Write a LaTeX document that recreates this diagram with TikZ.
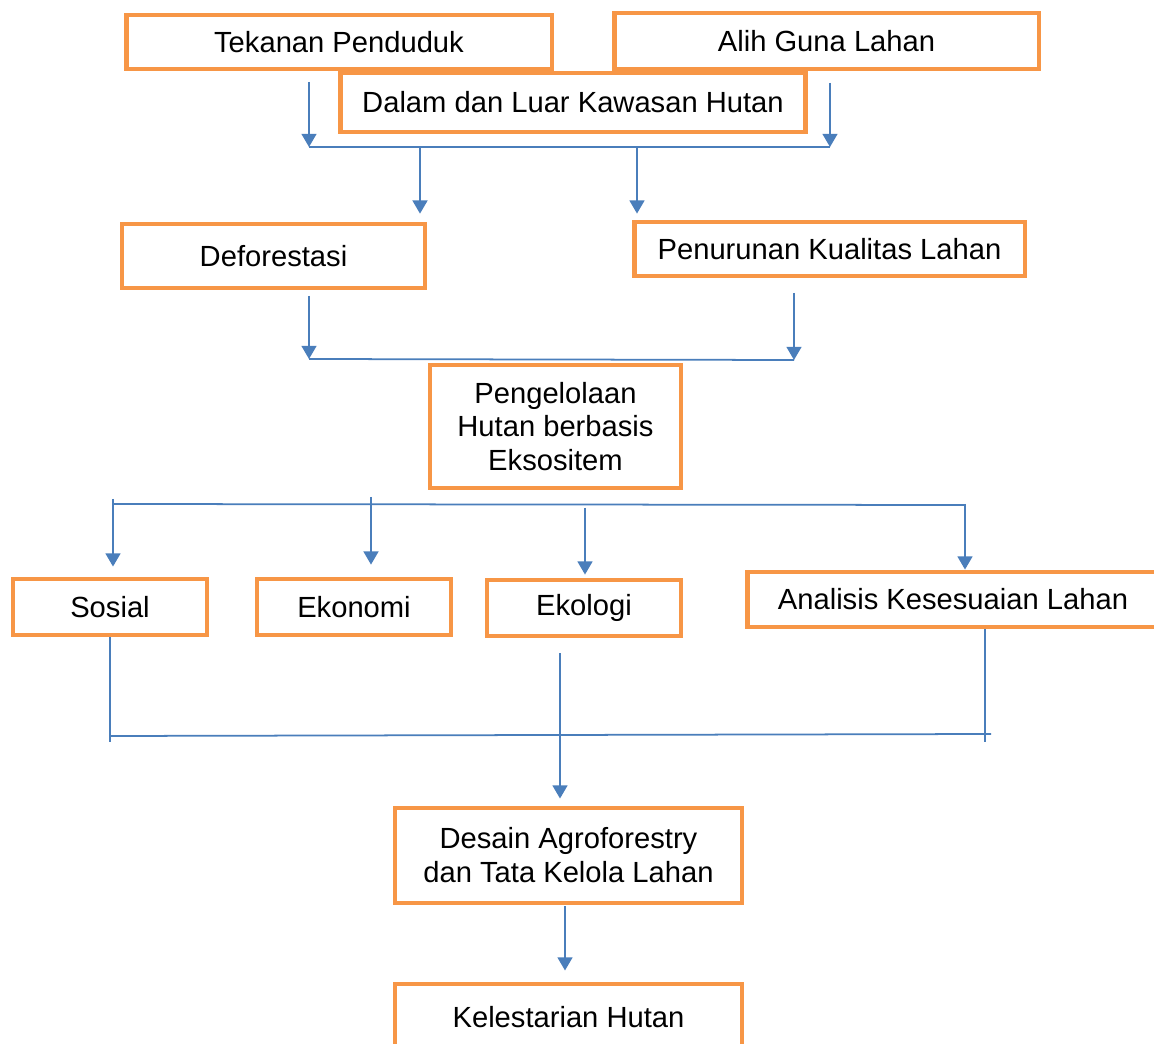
\documentclass[tikz,border=0pt]{standalone}
\usepackage{fontspec}
\setmainfont{Liberation Sans}
\usetikzlibrary{arrows.meta}
\definecolor{oranye}{HTML}{F79646}
\definecolor{biru}{HTML}{4A7EBB}
\begin{document}
\begin{tikzpicture}[x=0.02cm,y=-0.02cm,
  kotak/.style={draw=oranye,line width=2.8pt,fill=white,align=center,inner sep=0pt,
    font=\fontsize{16.6}{19.3}\selectfont},
  ukuran/.style 2 args={minimum width=#1cm,minimum height=#2cm},
  garis/.style={draw=biru,line width=1pt},
  panah/.style={garis,-{Triangle[width=8.5pt,length=7.5pt]}}]
\clip (0,0) rectangle (1154,1044);
\fill[white] (0,0) rectangle (1154,1044);
% kotak
\node[kotak,ukuran={8.52}{1.08}] (tekanan) at (339,42) {Tekanan Penduduk};
\node[kotak,ukuran={8.5}{1.12}] (alih) at (826.5,41) {Alih Guna Lahan};
\node[kotak,ukuran={9.32}{1.18}] (dalam) at (573,102.5) {Dalam dan Luar Kawasan Hutan};
\node[kotak,ukuran={6.06}{1.28}] (defor) at (273.5,256) {Deforestasi};
\node[kotak,ukuran={7.82}{1.08}] (turun) at (829.5,249) {Penurunan Kualitas Lahan};
\node[kotak,ukuran={5.02}{2.46}] (kelola) at (555.5,426.5) {Pengelolaan\\Hutan berbasis\\Eksositem};
\node[kotak,ukuran={3.88}{1.12}] (sosial) at (110,607) {Sosial};
\node[kotak,ukuran={3.88}{1.12}] (ekonomi) at (354,607) {Ekonomi};
\node[kotak,ukuran={3.88}{1.12}] (ekologi) at (584,608) {Ekologi};
\node[kotak,ukuran={8.24}{1.1}] (analisis) at (953,599.5) {Analisis Kesesuaian Lahan};
\node[kotak,ukuran={6.94}{1.9}] (desain) at (568.5,855.5) {Desain Agroforestry\\dan Tata Kelola Lahan};
\node[kotak,ukuran={6.94}{1.32}] (lestari) at (568.5,1017) {Kelestarian Hutan};
% atas
\coordinate (a1) at (309,82);
\coordinate (a2) at (830,83);
\coordinate (s1) at (309,147);
\coordinate (s2) at (830,147);
\coordinate (s3) at (420,147);
\coordinate (s4) at (637,147);
\draw[panah] (a1)--(s1);
\draw[panah] (a2)--(s2);
\draw[garis] (s1)--(s2);
\draw[panah,shorten >=4.5pt] (s3)--(s3 |- defor.north);
\draw[panah,shorten >=3.4pt] (s4)--(s4 |- turun.north);
% tengah
\coordinate (b1) at (309,296);
\coordinate (b2) at (794,293);
\coordinate (t1) at (309,359);
\coordinate (t2) at (794,360);
\draw[panah] (b1)--(t1);
\draw[panah] (b2)--(t2);
\draw[garis] (t1)--(t2);
% bawah
\coordinate (p1) at (113,499);
\coordinate (p2) at (371,497);
\coordinate (p3) at (585,508);
\coordinate (p4) at (965,504);
\draw[garis] (113,504)--(965,505);
\draw[panah,shorten >=5.7pt] (p1)--(p1 |- sosial.north);
\draw[panah,shorten >=6.8pt] (p2)--(p2 |- ekonomi.north);
\draw[panah,shorten >=1.7pt] (p3)--(p3 |- ekologi.north);
\draw[panah] (p4)--(p4 |- analisis.north);
\coordinate (q1) at (110,742);
\coordinate (q2) at (985,742);
\coordinate (q3) at (560,653);
\coordinate (q4) at (565,906);
\draw[garis] (sosial.south)--(q1);
\draw[garis] (q2 |- analisis.south)--(q2);
\draw[garis] (110,736)--(991,734);
\draw[panah,shorten >=4pt] (q3)--(q3 |- desain.north);
\draw[panah,shorten >=6.3pt] (q4)--(q4 |- lestari.north);
\end{tikzpicture}
\end{document}
